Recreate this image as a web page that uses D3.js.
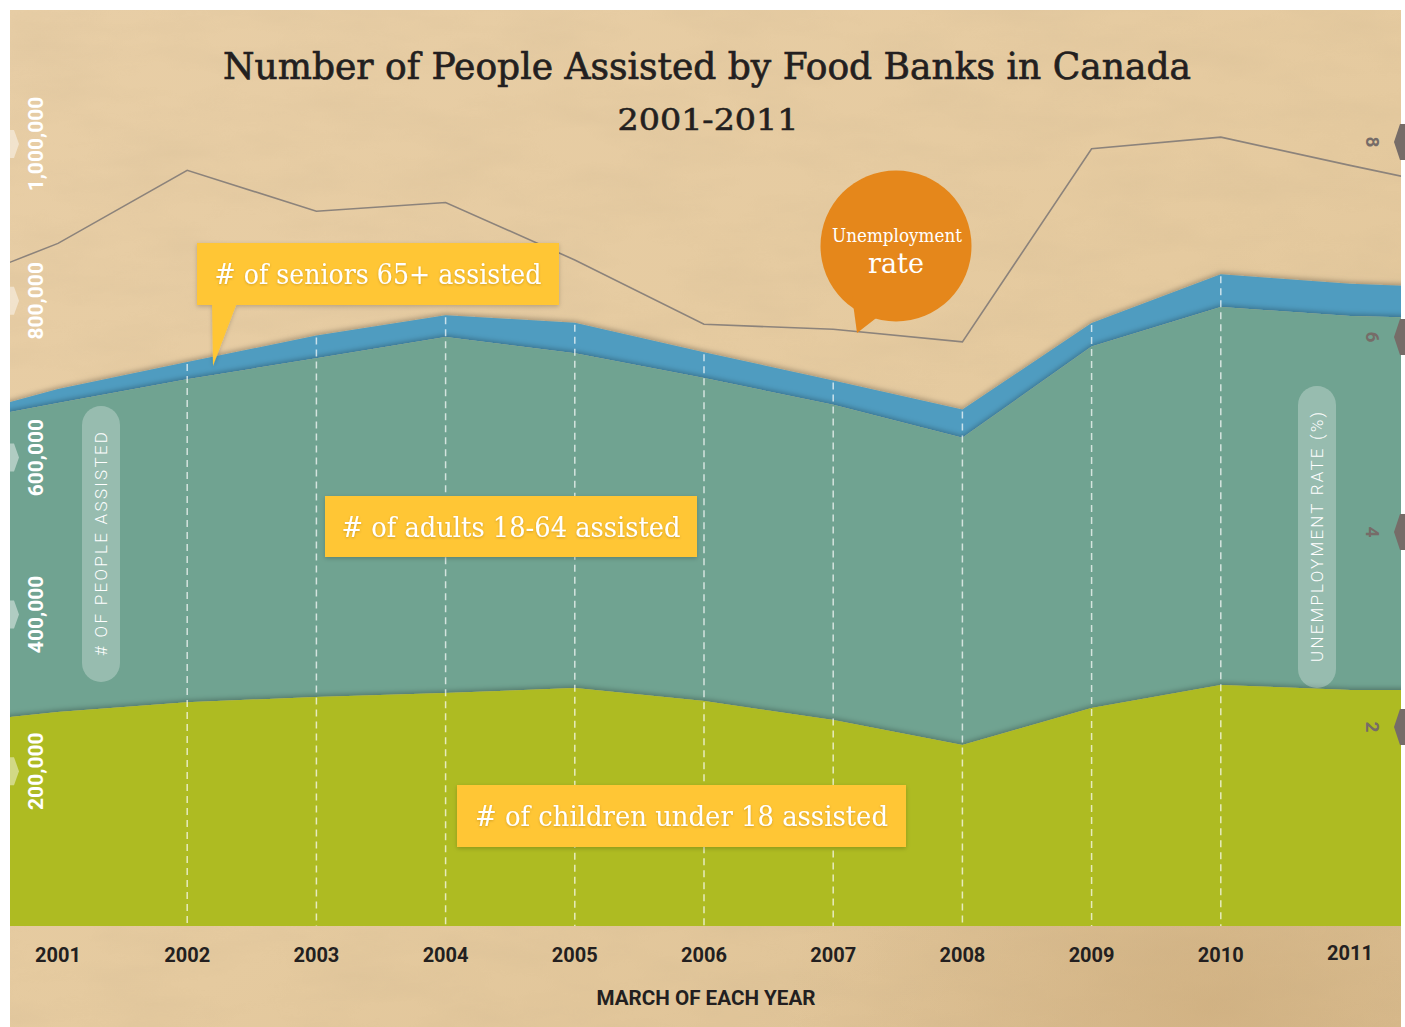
<!DOCTYPE html>
<html>
<head>
<meta charset="utf-8">
<script src="https://cdn.jsdelivr.net/npm/d3@7"></script>
<style>
  body { margin: 0; background: #ffffff; }
  svg { display: block; }
</style>
</head>
<body>
<svg id="chart" width="1405" height="1027"></svg>
<script>
// March counts; 2000 and 2012 only run the areas off the plot edges
const years = [2000, 2001, 2002, 2003, 2004, 2005, 2006, 2007, 2008, 2009, 2010, 2011, 2012];
const children = [258000, 275500, 288000, 294600, 299700, 306000, 289500, 265300, 233400, 280600, 310000, 303600, 303600];
const adults = [381000, 394000, 412000, 432000, 454000, 427000, 412000, 402000, 392000, 461000, 482000, 477000, 473000];
const seniors = [4000, 18000, 22000, 29000, 28000, 39000, 33000, 31000, 36000, 30000, 42000, 41000, 39000];
// Unemployment rate (%) in March
const unemployment = [6.44, 6.96, 7.71, 7.29, 7.38, 6.79, 6.13, 6.08, 5.95, 7.93, 8.05, 7.76, 7.48];

const axisYears = [2001, 2002, 2003, 2004, 2005, 2006, 2007, 2008, 2009, 2010, 2011];
const gridYears = [2002, 2003, 2004, 2005, 2006, 2007, 2008, 2009, 2010];
const peopleTicks = [200000, 400000, 600000, 800000, 1000000];
const rateTicks = [2, 4, 6, 8];

const title = "Number of People Assisted by Food Banks in Canada";
const subtitle = "2001-2011";
const xTitle = "MARCH OF EACH YEAR";
const yTitle = "# OF PEOPLE ASSISTED";
const y2Title = "UNEMPLOYMENT RATE (%)";
const seriesLabels = {
  seniors: "# of seniors 65+ assisted",
  adults: "# of adults 18-64 assisted",
  children: "# of children under 18 assisted"
};

const colors = {
  children: "#aebb23",
  adults: "#6fa391",
  seniors: "#4f9cc0",
  callout: "#ffc635",
  bubble: "#e5871b",
  line: "#8c837b",
  ink: "#231f20",
  rightTab: "#766c68"
};

const table = years.map((yr, i) => ({
  year: yr, children: children[i], adults: adults[i], seniors: seniors[i], rate: unemployment[i]
}));

const W = 1405, H = 1027;
const plot = { left: 10, right: 1401, top: 10, bottom: 926 };

const x = d3.scaleLinear().domain([2001, 2011]).range([58, 1350]);
const y = d3.scaleLinear().domain([0, 1000000]).range([928, 144]);
const yR = d3.scaleLinear().domain([0, 8]).range([922, 142]);

const svg = d3.select("#chart");
const defs = svg.append("defs");

// paper
const pg = defs.append("linearGradient").attr("id", "paperGrad")
  .attr("x1", "0").attr("y1", "0").attr("x2", "1").attr("y2", "1");
pg.append("stop").attr("offset", "0").attr("stop-color", "#e8cea6");
pg.append("stop").attr("offset", "0.55").attr("stop-color", "#e5ca9f");
pg.append("stop").attr("offset", "1").attr("stop-color", "#dcbf92");

const blot = defs.append("radialGradient").attr("id", "blot")
  .attr("cx", "0.86").attr("cy", "0.98").attr("r", "0.3");
blot.append("stop").attr("offset", "0").attr("stop-color", "#c6a473").attr("stop-opacity", 0.5);
blot.append("stop").attr("offset", "1").attr("stop-color", "#c6a473").attr("stop-opacity", 0);

const grain = defs.append("filter").attr("id", "grain")
  .attr("x", 0).attr("y", 0).attr("width", "100%").attr("height", "100%");
grain.append("feTurbulence").attr("type", "fractalNoise")
  .attr("baseFrequency", "0.01 0.03").attr("numOctaves", 4).attr("seed", 11).attr("result", "n");
grain.append("feColorMatrix").attr("type", "matrix")
  .attr("values", "0 0 0 0 0.55  0 0 0 0 0.42  0 0 0 0 0.25  0 0 0 -1.4 0.9");

const layerShadow = defs.append("filter").attr("id", "layerShadow")
  .attr("x", "-5%").attr("y", "-10%").attr("width", "110%").attr("height", "120%");
layerShadow.append("feDropShadow").attr("dx", 0).attr("dy", -2)
  .attr("stdDeviation", 2.5).attr("flood-color", "#000").attr("flood-opacity", 0.26);

const boxShadow = defs.append("filter").attr("id", "boxShadow")
  .attr("x", "-10%").attr("y", "-20%").attr("width", "120%").attr("height", "150%");
boxShadow.append("feDropShadow").attr("dx", 0).attr("dy", 1.5)
  .attr("stdDeviation", 2).attr("flood-color", "#000").attr("flood-opacity", 0.2);

const textShadow = defs.append("filter").attr("id", "textShadow")
  .attr("x", "-5%").attr("y", "-30%").attr("width", "110%").attr("height", "160%");
textShadow.append("feDropShadow").attr("dx", 0).attr("dy", 1)
  .attr("stdDeviation", 1.2).attr("flood-color", "#6b4a00").attr("flood-opacity", 0.3);

defs.append("clipPath").attr("id", "plotClip").append("rect")
  .attr("x", plot.left).attr("y", plot.top)
  .attr("width", plot.right - plot.left).attr("height", plot.bottom - plot.top);

// background paper
svg.append("rect").attr("x", plot.left).attr("y", plot.top)
  .attr("width", plot.right - plot.left).attr("height", H - plot.top)
  .attr("fill", "url(#paperGrad)");
svg.append("rect").attr("x", plot.left).attr("y", plot.top)
  .attr("width", plot.right - plot.left).attr("height", H - plot.top)
  .attr("filter", "url(#grain)").attr("opacity", 0.18);
svg.append("rect").attr("x", plot.left).attr("y", plot.top)
  .attr("width", plot.right - plot.left).attr("height", H - plot.top)
  .attr("fill", "url(#blot)");

// title
svg.append("text").attr("x", 707).attr("y", 79)
  .attr("text-anchor", "middle")
  .attr("font-family", "'DejaVu Serif', serif").attr("font-size", 38)
  .attr("fill", colors.ink).attr("stroke", colors.ink).attr("stroke-width", 0.7)
  .attr("textLength", 968).attr("lengthAdjust", "spacingAndGlyphs")
  .text(title);
svg.append("text").attr("x", 708).attr("y", 130)
  .attr("text-anchor", "middle")
  .attr("font-family", "'DejaVu Serif', serif").attr("font-size", 30)
  .attr("fill", colors.ink).attr("stroke", colors.ink).attr("stroke-width", 0.6)
  .attr("textLength", 181).attr("lengthAdjust", "spacingAndGlyphs")
  .text(subtitle);

const plotG = svg.append("g").attr("clip-path", "url(#plotClip)");

// unemployment rate line
const rateLine = d3.line().x(d => x(d.year)).y(d => yR(d.rate));
plotG.append("path").datum(table)
  .attr("d", rateLine)
  .attr("fill", "none").attr("stroke", colors.line).attr("stroke-width", 1.6);

// stacked areas: seniors on top, then adults, then children (lower layers cast a soft edge upward)
const stack = d3.stack().keys(["children", "adults", "seniors"]);
const series = stack(table);
const area = d3.area()
  .x(d => x(d.data.year))
  .y0(d => y(d[0]))
  .y1(d => y(d[1]));

[...series].reverse().forEach(s => {
  plotG.append("path").datum(s)
    .attr("d", area)
    .attr("fill", colors[s.key])
    .attr("filter", "url(#layerShadow)");
});

// dashed year guides from the top of the stack to the base
const totals = new Map(table.map(d => [d.year, d.children + d.adults + d.seniors]));
plotG.append("g").selectAll("line").data(gridYears).join("line")
  .attr("x1", d => x(d)).attr("x2", d => x(d))
  .attr("y1", d => y(totals.get(d)) + 2).attr("y2", plot.bottom)
  .attr("stroke", "#ffffff").attr("stroke-opacity", 0.7)
  .attr("stroke-width", 1.5).attr("stroke-dasharray", "7,5");

// left axis: tabs and labels
const leftAxis = svg.append("g");
leftAxis.selectAll("path").data(peopleTicks).join("path")
  .attr("d", d => {
    const c = y(d);
    return `M${plot.left},${c - 14} L${plot.left + 4},${c - 14} L${plot.left + 9},${c} L${plot.left + 4},${c + 14} L${plot.left},${c + 14} Z`;
  })
  .attr("fill", "#ffffff").attr("fill-opacity", 0.45);
leftAxis.selectAll("text").data(peopleTicks).join("text")
  .attr("transform", d => `translate(43,${y(d)}) rotate(-90)`)
  .attr("text-anchor", "middle")
  .attr("font-family", "Roboto, sans-serif").attr("font-weight", 700).attr("font-size", 21)
  .attr("fill", "#ffffff")
  .text(d => d3.format(",")(d));

// right axis: tabs and labels
const rightAxis = svg.append("g");
rightAxis.selectAll("path").data(rateTicks).join("path")
  .attr("d", d => {
    const c = yR(d);
    return `M${W},${c - 18} L${W - 5},${c - 18} L${W - 11},${c} L${W - 5},${c + 18} L${W},${c + 18} Z`;
  })
  .attr("fill", colors.rightTab);
rightAxis.selectAll("text").data(rateTicks).join("text")
  .attr("transform", d => `translate(1366,${yR(d)}) rotate(90)`)
  .attr("text-anchor", "middle")
  .attr("font-family", "Roboto, sans-serif").attr("font-weight", 700).attr("font-size", 19)
  .attr("fill", colors.rightTab)
  .text(d => d);

// axis titles in pills
function pill(cx, cy, len, label, textLen) {
  const g = svg.append("g");
  g.append("rect").attr("x", cx - 19).attr("y", cy - len / 2)
    .attr("width", 38).attr("height", len).attr("rx", 19)
    .attr("fill", "#ffffff").attr("fill-opacity", 0.28);
  g.append("text").attr("transform", `translate(${cx + 6},${cy}) rotate(-90)`)
    .attr("text-anchor", "middle")
    .attr("font-family", "Roboto, sans-serif").attr("font-weight", 300).attr("font-size", 17)
    .attr("fill", "#ffffff")
    .attr("textLength", textLen).attr("lengthAdjust", "spacing")
    .text(label);
}
pill(101, 544, 276, yTitle, 224);
pill(1317, 537, 302, y2Title, 250);

// x axis labels
svg.append("g").selectAll("text").data(axisYears).join("text")
  .attr("x", d => x(d)).attr("y", d => d === 2011 ? 960 : 962)
  .attr("text-anchor", "middle")
  .attr("font-family", "Roboto, sans-serif").attr("font-weight", 700).attr("font-size", 20)
  .attr("fill", colors.ink)
  .text(d => d);
svg.append("text").attr("x", 706).attr("y", 1005)
  .attr("text-anchor", "middle")
  .attr("font-family", "Roboto, sans-serif").attr("font-weight", 700).attr("font-size", 20)
  .attr("fill", colors.ink)
  .attr("textLength", 219).attr("lengthAdjust", "spacingAndGlyphs")
  .text(xTitle);

// series callouts
function callout(x0, y0, w, h, label, textLen, tail) {
  const g = svg.append("g").attr("filter", "url(#boxShadow)");
  g.append("rect").attr("x", x0).attr("y", y0).attr("width", w).attr("height", h)
    .attr("fill", colors.callout);
  if (tail) {
    g.append("path").attr("d", d3.line()(tail)).attr("fill", colors.callout);
  }
  svg.append("text").attr("x", x0 + w / 2).attr("y", y0 + h / 2 + 10)
    .attr("text-anchor", "middle")
    .attr("font-family", "'DejaVu Serif', serif").attr("font-size", 28)
    .attr("fill", "#ffffff").attr("filter", "url(#textShadow)")
    .attr("textLength", textLen).attr("lengthAdjust", "spacingAndGlyphs")
    .text(label);
}
callout(197, 243, 362, 62, seriesLabels.seniors, 327, [[212, 300], [238, 300], [213, 366]]);
callout(325, 496, 372, 61, seriesLabels.adults, 339, null);
callout(457, 785, 449, 62, seriesLabels.children, 413, null);

// unemployment speech bubble
const bubble = svg.append("g");
bubble.append("circle").attr("cx", 896).attr("cy", 246).attr("r", 75.5).attr("fill", colors.bubble);
bubble.append("path").attr("d", d3.line()([[852, 296], [857, 333], [884, 312]])).attr("fill", colors.bubble);
bubble.append("text").attr("x", 897).attr("y", 242).attr("text-anchor", "middle")
  .attr("font-family", "'DejaVu Serif', serif").attr("font-size", 18).attr("fill", "#ffffff")
  .attr("textLength", 130).attr("lengthAdjust", "spacingAndGlyphs")
  .text("Unemployment");
bubble.append("text").attr("x", 896).attr("y", 273).attr("text-anchor", "middle")
  .attr("font-family", "'DejaVu Serif', serif").attr("font-size", 28).attr("fill", "#ffffff")
  .attr("textLength", 56).attr("lengthAdjust", "spacingAndGlyphs")
  .text("rate");
</script>
</body>
</html>
